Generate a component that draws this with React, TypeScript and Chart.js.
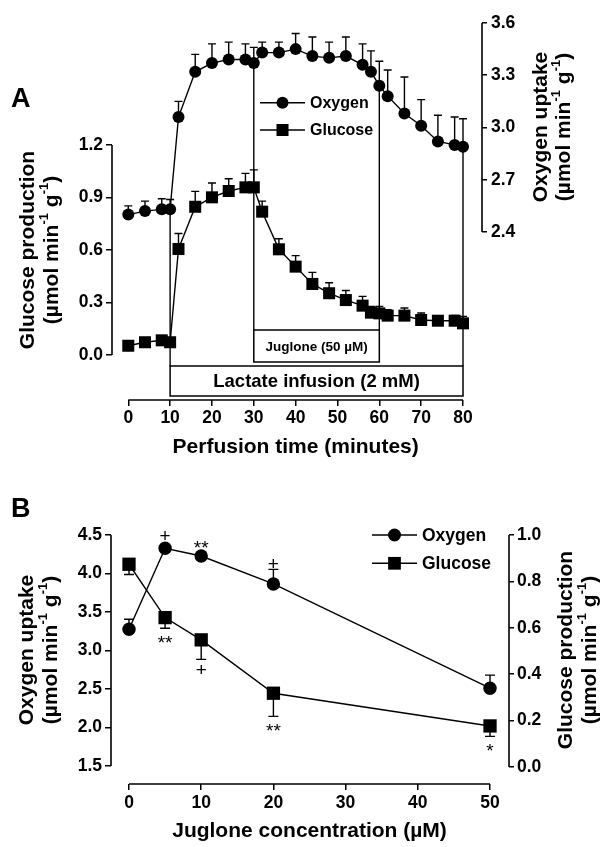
import React, { useEffect, useRef } from 'react';
import { Chart, registerables } from 'chart.js';

Chart.register(...registerables);

const FONT = '"Liberation Sans", Arial, Helvetica, sans-serif';

// ---------------- Panel A data ----------------
const perfusionTime = [0, 4, 8, 10, 12, 16, 20, 24, 28, 30, 32, 36, 40, 44, 48, 52, 56, 58, 60, 62, 66, 70, 74, 78, 80];
const oxygenUptakeA = [2.50, 2.52, 2.53, 2.53, 3.06, 3.32, 3.37, 3.39, 3.39, 3.37, 3.43, 3.43, 3.45, 3.41, 3.40, 3.41, 3.36, 3.32, 3.24, 3.18, 3.08, 3.01, 2.92, 2.90, 2.89];
const oxygenUptakeAErr = [0.05, 0.057, 0.061, 0.057, 0.09, 0.10, 0.11, 0.10, 0.09, 0.09, 0.06, 0.06, 0.09, 0.11, 0.09, 0.11, 0.12, 0.12, 0.14, 0.15, 0.21, 0.15, 0.15, 0.16, 0.16];
const glucoseProdA = [0.053, 0.073, 0.084, 0.073, 0.606, 0.847, 0.901, 0.937, 0.958, 0.958, 0.819, 0.604, 0.505, 0.406, 0.353, 0.314, 0.282, 0.242, 0.238, 0.225, 0.225, 0.200, 0.196, 0.196, 0.181];
const glucoseProdAErr = [0, 0, 0, 0, 0.088, 0.088, 0.082, 0.07, 0.08, 0.10, 0.06, 0.06, 0.063, 0.066, 0.06, 0.055, 0.053, 0.035, 0.04, 0.034, 0.044, 0.04, 0.02, 0.03, 0.04];
const timeTicksA = [0, 10, 20, 30, 40, 50, 60, 70, 80];
const glucoseTicksA = [0, 0.3, 0.6, 0.9, 1.2];
const oxygenTicksA = [2.4, 2.7, 3.0, 3.3, 3.6];
const jugloneBox = { from: 30, to: 60, label: 'Juglone (50 \u00B5M)' };
const lactateBox = { from: 10, to: 80, label: 'Lactate infusion (2 mM)' };

// ---------------- Panel B data ----------------
const jugloneConc = [0, 5, 10, 20, 50];
const oxygenUptakeB = [3.275, 4.327, 4.227, 3.864, 2.51];
const oxygenUptakeBErr = [0.13, 0.04, 0, 0.19, 0.17];
const glucoseProdB = [0.874, 0.644, 0.548, 0.318, 0.177];
const glucoseProdBErr = [0.044, 0.046, 0.084, 0.10, 0.045];
const oxygenSigB = ['', '+', '**', '+', ''];
const glucoseSigB = ['', '**', '+', '**', '*'];
const concTicksB = [0, 10, 20, 30, 40, 50];
const oxygenTicksB = [1.5, 2.0, 2.5, 3.0, 3.5, 4.0, 4.5];
const glucoseTicksB = [0, 0.2, 0.4, 0.6, 0.8, 1.0];

const UNIT = [
  { t: '(\u00B5mol min' }, { t: '-1', sup: true }, { t: ' g' }, { t: '-1', sup: true }, { t: ')' },
];

type Seg = { t: string; sup?: boolean };

function drawRich(ctx: CanvasRenderingContext2D, segs: Seg[], cx: number, cy: number, size: number, rotate: boolean) {
  ctx.save();
  ctx.translate(cx, cy);
  if (rotate) ctx.rotate(-Math.PI / 2);
  const main = `bold ${size}px ${FONT}`;
  const sup = `bold ${size * 0.62}px ${FONT}`;
  let w = 0;
  for (const s of segs) { ctx.font = s.sup ? sup : main; w += ctx.measureText(s.t).width; }
  let x = -w / 2;
  ctx.textBaseline = 'middle';
  ctx.textAlign = 'left';
  ctx.fillStyle = '#000';
  for (const s of segs) {
    ctx.font = s.sup ? sup : main;
    ctx.fillText(s.t, x, s.sup ? -size * 0.36 : 0);
    x += ctx.measureText(s.t).width;
  }
  ctx.restore();
}

function drawMarker(ctx: CanvasRenderingContext2D, style: string, x: number, y: number, r: number) {
  ctx.beginPath();
  if (style === 'circle') ctx.arc(x, y, r, 0, Math.PI * 2);
  else { const s = r * Math.SQRT1_2; ctx.rect(x - s, y - s, 2 * s, 2 * s); }
  ctx.fillStyle = '#000';
  ctx.fill();
}

function drawLegend(ctx: CanvasRenderingContext2D, items: { label: string; style: string; r: number }[], x0: number, x1: number, y0: number, dy: number, size: number) {
  ctx.save();
  ctx.strokeStyle = '#000';
  ctx.lineWidth = 1.5;
  items.forEach((it, i) => {
    const y = y0 + i * dy;
    ctx.beginPath(); ctx.moveTo(x0, y); ctx.lineTo(x1, y); ctx.stroke();
    drawMarker(ctx, it.style, (x0 + x1) / 2, y, it.r);
    ctx.font = `bold ${size}px ${FONT}`;
    ctx.fillStyle = '#000';
    ctx.textAlign = 'left';
    ctx.textBaseline = 'middle';
    ctx.fillText(it.label, x1 + 5, y + 1);
  });
  ctx.restore();
}

function drawErrors(chart: any, dsIndex: number, errs: number[], dir: number, cap: number) {
  const ctx = chart.ctx as CanvasRenderingContext2D;
  const meta = chart.getDatasetMeta(dsIndex);
  const ds = chart.data.datasets[dsIndex];
  const yScale = chart.scales[ds.yAxisID];
  ctx.save();
  ctx.strokeStyle = '#000';
  ctx.lineWidth = 1.4;
  meta.data.forEach((pt: any, i: number) => {
    const e = errs[i];
    if (!e) return;
    const yEnd = yScale.getPixelForValue(ds.data[i].y + dir * e);
    ctx.beginPath();
    ctx.moveTo(pt.x, pt.y); ctx.lineTo(pt.x, yEnd);
    ctx.moveTo(pt.x - cap, yEnd); ctx.lineTo(pt.x + cap, yEnd);
    ctx.stroke();
  });
  ctx.restore();
}

function vLine(ctx: CanvasRenderingContext2D, x: number, y0: number, y1: number) {
  ctx.beginPath(); ctx.moveTo(x, y0); ctx.lineTo(x, y1); ctx.stroke();
}
function hLine(ctx: CanvasRenderingContext2D, y: number, x0: number, x1: number) {
  ctx.beginPath(); ctx.moveTo(x0, y); ctx.lineTo(x1, y); ctx.stroke();
}

function axis(position: string, min: number, max: number, values: number[], size: number, tickLen: number, pad: number, decimals: number) {
  const horizontal = position === 'bottom';
  return {
    type: 'linear',
    position,
    min,
    max,
    bounds: 'data',
    afterBuildTicks: (ax: any) => { ax.ticks = values.map((v) => ({ value: v })); },
    afterFit: (ax: any) => { if (horizontal) ax.height = size; else ax.width = size; },
    grid: { display: true, drawOnChartArea: false, drawTicks: true, tickLength: tickLen, color: '#000', lineWidth: 1.5 },
    border: { display: false },
    ticks: {
      color: '#000',
      font: { family: FONT, size: 17.5, weight: 'bold' },
      padding: pad,
      autoSkip: false,
      maxRotation: 0,
      callback: (v: any) => Number(v).toFixed(decimals),
    },
  };
}

function lineDataset(label: string, xs: number[], ys: number[], yAxisID: string, style: string, r: number) {
  return {
    label,
    data: xs.map((x, i) => ({ x, y: ys[i] })),
    yAxisID,
    xAxisID: 'x',
    borderColor: '#000',
    borderWidth: 1.4,
    backgroundColor: '#000',
    pointBackgroundColor: '#000',
    pointBorderColor: '#000',
    pointBorderWidth: 0,
    pointStyle: style,
    pointRadius: r,
    tension: 0,
    clip: false,
  };
}

const panelAPlugin = {
  id: 'panelA',
  beforeDatasetsDraw(chart: any) {
    const ctx = chart.ctx as CanvasRenderingContext2D;
    const { x, yG, yO } = chart.scales;
    const bottom = chart.chartArea.bottom;
    ctx.save();
    ctx.strokeStyle = '#000';
    ctx.lineWidth = 1.5;
    const boxes = [
      { b: lactateBox, top: bottom - 34, bot: bottom - 4, size: 18.5 },
      { b: jugloneBox, top: bottom - 70, bot: bottom - 38, size: 13.5 },
    ];
    boxes.forEach(({ b, top, bot, size }) => {
      const x0 = x.getPixelForValue(b.from);
      const x1 = x.getPixelForValue(b.to);
      ctx.fillStyle = '#fff';
      ctx.fillRect(x0, top, x1 - x0, bot - top);
      ctx.strokeRect(x0, top, x1 - x0, bot - top);
      ctx.fillStyle = '#000';
      ctx.font = `bold ${size}px ${FONT}`;
      ctx.textAlign = 'center';
      ctx.textBaseline = 'middle';
      ctx.fillText(b.label, (x0 + x1) / 2, (top + bot) / 2 + 1);
    });
    // vertical marker lines from oxygen curve down to the boxes
    ctx.lineWidth = 1.4;
    [
      { t: lactateBox.from, end: bottom - 34 },
      { t: jugloneBox.from, end: bottom - 70 },
      { t: jugloneBox.to, end: bottom - 70 },
      { t: lactateBox.to, end: bottom - 34 },
    ].forEach(({ t, end }) => {
      const i = perfusionTime.indexOf(t);
      vLine(ctx, x.getPixelForValue(t), yO.getPixelForValue(oxygenUptakeA[i]), end);
    });
    ctx.restore();
    drawErrors(chart, 0, oxygenUptakeAErr, 1, 4);
    drawErrors(chart, 1, glucoseProdAErr, 1, 4);
  },
  afterDraw(chart: any) {
    const ctx = chart.ctx as CanvasRenderingContext2D;
    const { x, yG, yO } = chart.scales;
    ctx.save();
    ctx.strokeStyle = '#000';
    ctx.lineWidth = 1.6;
    vLine(ctx, yG.right, yG.getPixelForValue(glucoseTicksA[glucoseTicksA.length - 1]), yG.getPixelForValue(glucoseTicksA[0]));
    vLine(ctx, yO.left, yO.getPixelForValue(oxygenTicksA[oxygenTicksA.length - 1]), yO.getPixelForValue(oxygenTicksA[0]));
    hLine(ctx, x.top, x.getPixelForValue(timeTicksA[0]), x.getPixelForValue(timeTicksA[timeTicksA.length - 1]));
    ctx.restore();

    drawRich(ctx, [{ t: 'Glucose production' }], 28, 250, 21, true);
    drawRich(ctx, UNIT, 52, 250, 21, true);
    drawRich(ctx, [{ t: 'Oxygen uptake' }], 541, 127, 21, true);
    drawRich(ctx, UNIT, 564, 127, 21, true);
    drawRich(ctx, [{ t: 'Perfusion time (minutes)' }], x.getPixelForValue(40), 447, 21, false);

    ctx.save();
    ctx.font = `bold 27px ${FONT}`;
    ctx.fillStyle = '#000';
    ctx.textAlign = 'left';
    ctx.textBaseline = 'alphabetic';
    ctx.fillText('A', 11, 107);
    ctx.restore();

    drawLegend(ctx, [
      { label: 'Oxygen', style: 'circle', r: 6 },
      { label: 'Glucose', style: 'rect', r: 8.5 },
    ], 260, 305, 102.7, 27.3, 16);
  },
};

const panelBPlugin = {
  id: 'panelB',
  beforeDatasetsDraw(chart: any) {
    drawErrors(chart, 0, oxygenUptakeBErr, 1, 5);
    drawErrors(chart, 1, glucoseProdBErr, -1, 5);
  },
  afterDraw(chart: any) {
    const ctx = chart.ctx as CanvasRenderingContext2D;
    const { x, yO, yG } = chart.scales;
    ctx.save();
    ctx.strokeStyle = '#000';
    ctx.lineWidth = 1.6;
    vLine(ctx, yO.right, yO.getPixelForValue(oxygenTicksB[oxygenTicksB.length - 1]), yO.getPixelForValue(oxygenTicksB[0]));
    vLine(ctx, yG.left, yG.getPixelForValue(glucoseTicksB[glucoseTicksB.length - 1]), yG.getPixelForValue(glucoseTicksB[0]));
    hLine(ctx, x.top, x.getPixelForValue(concTicksB[0]), x.getPixelForValue(concTicksB[concTicksB.length - 1]));
    ctx.restore();

    // significance marks
    const sigSize = 19;
    const put = (txt: string, px: number, cy: number) => {
      if (!txt) return;
      ctx.save();
      ctx.font = `${sigSize}px ${FONT}`;
      ctx.fillStyle = '#000';
      ctx.textAlign = 'center';
      ctx.textBaseline = 'alphabetic';
      const k = txt.includes('*') ? 0.575 : 0.35;
      ctx.fillText(txt, px, cy + k * sigSize);
      ctx.restore();
    };
    const mO = chart.getDatasetMeta(0);
    const mG = chart.getDatasetMeta(1);
    jugloneConc.forEach((c, i) => {
      const pO = mO.data[i];
      const rO = pO.options.radius;
      const topO = Math.min(yO.getPixelForValue(oxygenUptakeB[i] + oxygenUptakeBErr[i]), pO.y - rO);
      put(oxygenSigB[i], pO.x, topO - 6);
      const pG = mG.data[i];
      const half = pG.options.radius * Math.SQRT1_2;
      const botG = Math.max(yG.getPixelForValue(glucoseProdB[i] - glucoseProdBErr[i]), pG.y + half);
      put(glucoseSigB[i], pG.x, botG + 10);
    });

    drawRich(ctx, [{ t: 'Oxygen uptake' }], 27, 190, 21, true);
    drawRich(ctx, UNIT, 51, 190, 21, true);
    drawRich(ctx, [{ t: 'Glucose production' }], 566, 190, 21, true);
    drawRich(ctx, UNIT, 590, 190, 21, true);
    drawRich(ctx, [{ t: 'Juglone concentration (\u00B5M)' }], x.getPixelForValue(25), 371, 21, false);

    ctx.save();
    ctx.font = `bold 27px ${FONT}`;
    ctx.fillStyle = '#000';
    ctx.textAlign = 'left';
    ctx.textBaseline = 'alphabetic';
    ctx.fillText('B', 11, 57);
    ctx.restore();

    drawLegend(ctx, [
      { label: 'Oxygen', style: 'circle', r: 6.5 },
      { label: 'Glucose', style: 'rect', r: 9 },
    ], 372, 417, 75, 28.3, 17.5);
  },
};

function configA(): any {
  return {
    type: 'line',
    data: {
      datasets: [
        lineDataset('Oxygen', perfusionTime, oxygenUptakeA, 'yO', 'circle', 6),
        lineDataset('Glucose', perfusionTime, glucoseProdA, 'yG', 'rect', 8.5),
      ],
    },
    options: {
      animation: false,
      responsive: false,
      devicePixelRatio: 1,
      events: [],
      layout: { padding: { top: 23, left: 0, right: 0, bottom: 0 } },
      plugins: { legend: { display: false }, tooltip: { enabled: false } },
      scales: {
        x: axis('bottom', -3.89, 84.54, timeTicksA, 60, 6, 2, 0),
        yG: axis('left', -0.257, 1.897, glucoseTicksA, 112, 6, 3, 1),
        yO: axis('right', 1.4354, 3.6, oxygenTicksA, 132, 5, 4, 1),
      },
    },
    plugins: [panelAPlugin],
  };
}

function configB(): any {
  return {
    type: 'line',
    data: {
      datasets: [
        lineDataset('Oxygen', jugloneConc, oxygenUptakeB, 'yO', 'circle', 6.7),
        lineDataset('Glucose', jugloneConc, glucoseProdB, 'yG', 'rect', 9.4),
      ],
    },
    options: {
      animation: false,
      responsive: false,
      devicePixelRatio: 1,
      events: [],
      layout: { padding: { top: 70, left: 0, right: 0, bottom: 0 } },
      plugins: { legend: { display: false }, tooltip: { enabled: false } },
      scales: {
        x: axis('bottom', -2.493, 52.63, concTicksB, 63, 6, 3, 0),
        yO: axis('left', 1.266, 4.565, oxygenTicksB, 111, 6, 3, 1),
        yG: axis('right', -0.0733, 1.0216, glucoseTicksB, 105, 5, 3, 1),
      },
    },
    plugins: [panelBPlugin],
  };
}

export default function App() {
  const refA = useRef<HTMLCanvasElement>(null);
  const refB = useRef<HTMLCanvasElement>(null);
  useEffect(() => {
    const a = new Chart(refA.current as HTMLCanvasElement, configA());
    const b = new Chart(refB.current as HTMLCanvasElement, configB());
    return () => { a.destroy(); b.destroy(); };
  }, []);
  return (
    <div style={{ position: 'absolute', left: 0, top: 0, width: 614, height: 847, background: '#fff' }}>
      <canvas ref={refA} width={614} height={460} style={{ display: 'block', width: 614, height: 460 }} />
      <canvas ref={refB} width={614} height={387} style={{ display: 'block', width: 614, height: 387 }} />
    </div>
  );
}
